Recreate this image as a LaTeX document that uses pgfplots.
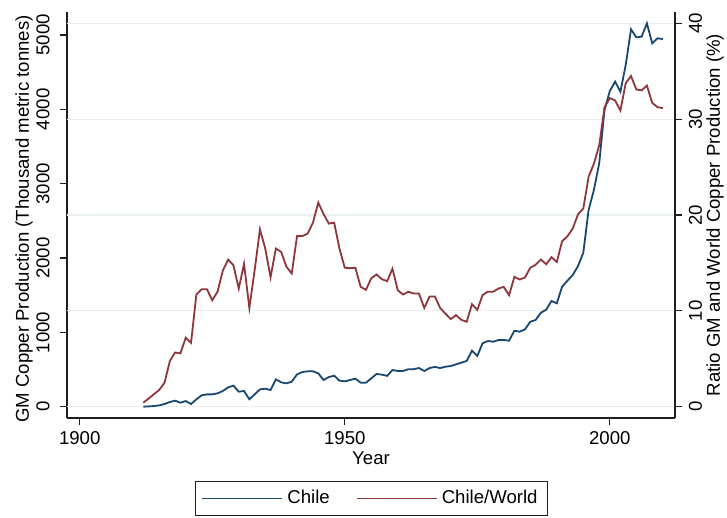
\documentclass[border=0pt]{standalone}
\usepackage{graphicx}
\usepackage{pgfplots}
\pgfplotsset{compat=1.18}
\usepackage{pgfplotstable}
\usepackage{fontspec}
\setmainfont{Liberation Sans}

\definecolor{chileblue}{RGB}{26,71,111}
\definecolor{ratiored}{RGB}{144,53,59}
\definecolor{gridgray}{RGB}{232,240,241}
\definecolor{axisgray}{RGB}{30,30,30}

\newcommand{\chartfont}{\fontsize{9.3}{11}\selectfont}

% GM copper production, thousand metric tonnes
\pgfplotstableread{
year gm
1912 0
1913 4
1914 9
1915 18
1916 36
1917 63
1918 81
1919 54
1920 76
1921 36
1922 99
1923 153
1924 166
1925 166
1926 180
1927 211
1928 260
1929 283
1930 202
1931 211
1932 100
1933 166
1934 233
1935 242
1936 224
1937 368
1938 328
1939 314
1940 336
1941 435
1942 466
1943 476
1944 476
1945 449
1946 359
1947 399
1948 417
1949 350
1950 341
1951 359
1952 377
1953 323
1954 323
1955 381
1956 440
1957 431
1958 415
1959 494
1960 480
1961 480
1962 505
1963 505
1964 520
1965 480
1966 520
1967 535
1968 520
1969 538
1970 547
1971 570
1972 592
1973 615
1974 753
1975 682
1976 853
1977 884
1978 874
1979 897
1980 897
1981 888
1982 1022
1983 1009
1984 1041
1985 1143
1986 1166
1987 1264
1988 1305
1989 1422
1990 1391
1991 1614
1992 1695
1993 1771
1994 1892
1995 2071
1996 2646
1997 2915
1998 3274
1999 3990
2000 4246
2001 4372
2002 4237
2003 4596
2004 5076
2005 4968
2006 4977
2007 5157
2008 4888
2009 4955
2010 4946
}\gmtable

% Share of GM in world copper production, percent
\pgfplotstableread{
year ratio
1912 0.42
1913 0.85
1914 1.3
1915 1.75
1916 2.5
1917 4.76
1918 5.66
1919 5.56
1920 7.2
1921 6.67
1922 11.7
1923 12.26
1924 12.26
1925 11.1
1926 12.0
1927 14.2
1928 15.35
1929 14.76
1930 12.33
1931 14.9
1932 10.3
1933 14.24
1934 18.5
1935 16.5
1936 13.5
1937 16.5
1938 16.15
1939 14.6
1940 13.9
1941 17.8
1942 17.8
1943 18.06
1944 19.2
1945 21.3
1946 20.1
1947 19.1
1948 19.2
1949 16.5
1950 14.5
1951 14.45
1952 14.5
1953 12.5
1954 12.2
1955 13.4
1956 13.8
1957 13.3
1958 13.1
1959 14.4
1960 12.15
1961 11.7
1962 12.0
1963 11.8
1964 11.8
1965 10.3
1966 11.5
1967 11.5
1968 10.3
1969 9.7
1970 9.14
1971 9.55
1972 9.06
1973 8.86
1974 10.7
1975 10.1
1976 11.65
1977 12.0
1978 12.0
1979 12.33
1980 12.5
1981 11.63
1982 13.55
1983 13.27
1984 13.48
1985 14.5
1986 14.8
1987 15.35
1988 14.86
1989 15.6
1990 15.1
1991 17.26
1992 17.78
1993 18.58
1994 20.07
1995 20.67
1996 24.0
1997 25.35
1998 27.26
1999 31.25
2000 32.2
2001 31.95
2002 30.9
2003 33.75
2004 34.5
2005 33.1
2006 33.0
2007 33.5
2008 31.7
2009 31.25
2010 31.15
}\ratiotable

\pgfplotsset{
  commonaxis/.style={
    scale only axis, width=304pt, height=203pt,
    xmin=1897.6, xmax=2012.3,
    axis line style={-, axisgray, line width=0.6pt},
    tick style={axisgray, line width=0.6pt},
    tick align=outside, major tick length=3.5pt,
    /pgf/number format/assume math mode=true,
    /pgf/number format/set thousands separator={},
    tick label style={font=\chartfont},
    label style={font=\chartfont},
    % vertical tick numbers, read from bottom to top
    yticklabel={\rotatebox{90}{\pgfmathprintnumber{\tick}}},
  },
}

\begin{document}
\begin{tikzpicture}
\useasboundingbox (-33.5pt,-50pt) rectangle (330pt,209pt);

% left axis: production level, with the grid of the right-hand scale
\begin{axis}[commonaxis,
  ymin=-152, ymax=5309,
  axis x line*=bottom, axis y line*=left,
  xtick={1900,1950,2000},
  ytick={0,1000,2000,3000,4000,5000},
  extra y ticks={0,1289.2,2578.4,3867.6,5156.8},
  extra y tick labels={},
  extra y tick style={ymajorgrids=true, major tick length=0pt,
    major grid style={gridgray, line width=0.6pt}},
  xticklabel style={anchor=north, yshift=0.25pt},
  yticklabel style={anchor=east, xshift=-1.75pt},
  xlabel={Year},
  xlabel style={at={(axis description cs:0.5,-0.0985)}, anchor=center},
  ylabel={GM Copper Production (Thousand metric tonnes)},
  ylabel style={at={(axis description cs:-0.0707,0.49)}, anchor=center},
]
\addplot[chileblue, line width=0.9pt, mark=none] table[x=year, y=gm] {\gmtable};
\end{axis}

% right axis: share of world production
\begin{axis}[commonaxis,
  ymin=-1.179, ymax=41.18,
  axis x line=none, axis y line*=right,
  ytick={0,10,20,30,40},
  yticklabel style={anchor=west, xshift=-0.1pt},
  ylabel={Ratio GM and World Copper Production (\%)},
  ylabel style={at={(axis description cs:1.0658,0.5)}, anchor=center},
  legend columns=2,
  legend style={at={(axis description cs:0.5008,-0.156)}, anchor=north,
    draw=axisgray, line width=0.5pt, fill=white,
    inner xsep=2.75pt, inner ysep=2.25pt, font=\chartfont,
    /tikz/every even column/.append style={column sep=11pt}},
  legend image code/.code={
    \path (-1.4pt,0pt) -- (38.7pt,0pt);
    \draw[#1] (0pt,0pt) -- (36pt,0pt);
  },
]
\addlegendimage{chileblue, line width=0.9pt}
\addlegendentry{Chile}
\addplot[ratiored, line width=0.9pt, mark=none] table[x=year, y=ratio] {\ratiotable};
\addlegendentry{Chile/World}
\end{axis}
\end{tikzpicture}
\end{document}
